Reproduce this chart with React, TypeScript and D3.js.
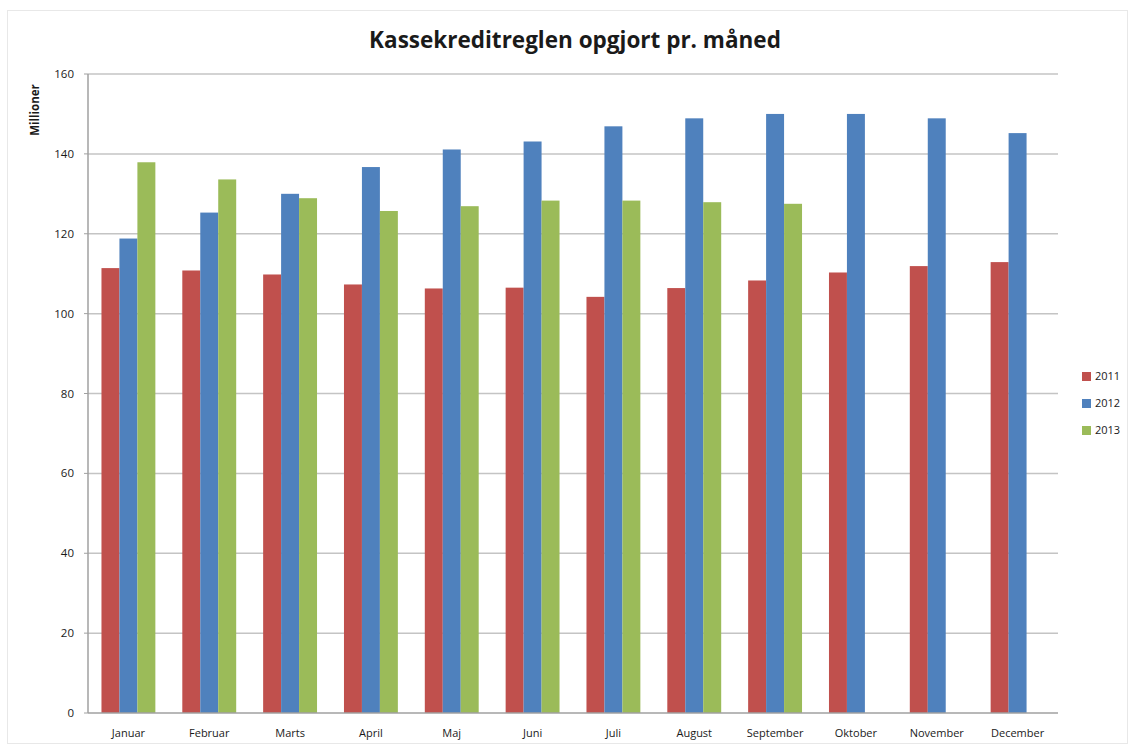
import { scaleBand, scaleLinear } from "d3";

const WIDTH = 1133;
const HEIGHT = 747;
const MARGIN = { top: 74, right: 75, bottom: 34, left: 88 };

const months = [
  "Januar", "Februar", "Marts", "April", "Maj", "Juni",
  "Juli", "August", "September", "Oktober", "November", "December",
];
const years = ["2011", "2012", "2013"];
const values2011 = [111.4, 110.8, 109.8, 107.3, 106.3, 106.5, 104.2, 106.4, 108.3, 110.3, 111.9, 112.9];
const values2012 = [118.8, 125.3, 130.0, 136.7, 141.1, 143.1, 146.9, 148.9, 150.0, 150.0, 148.9, 145.2];
const values2013 = [137.9, 133.6, 128.9, 125.7, 126.9, 128.3, 128.3, 127.9, 127.5, null, null, null];
const yTicks = [0, 20, 40, 60, 80, 100, 120, 140, 160];
const colors = ["#C0504D", "#4F81BD", "#9BBB59"];

const FONT = "'Open Sans', 'Liberation Sans', sans-serif";

export default function App() {
  const series = [values2011, values2012, values2013];
  const x = scaleBand<string>()
    .domain(months)
    .range([MARGIN.left, WIDTH - MARGIN.right]);
  const inner = scaleBand<string>()
    .domain(years)
    .range([0, x.bandwidth()])
    .paddingInner(0)
    .paddingOuter(0.75);
  const y = scaleLinear()
    .domain([0, 160])
    .range([HEIGHT - MARGIN.bottom, MARGIN.top]);

  return (
    <svg width={WIDTH} height={HEIGHT} style={{ position: "absolute", left: 0, top: 0 }}>
      <rect x={0} y={0} width={WIDTH} height={HEIGHT} fill="#fff" />
      <rect x={7.5} y={10.5} width={1120} height={733} fill="none" stroke="#d0d0d0" strokeDasharray="1 1" />
      <text
        x={575}
        y={48}
        textAnchor="middle"
        fontFamily={FONT}
        fontWeight="bold"
        fontSize={22.5}
        fill="#1a1a1a"
      >
        Kassekreditreglen opgjort pr. måned
      </text>
      <text
        transform="translate(39,110) rotate(-90)"
        textAnchor="middle"
        fontFamily={FONT}
        fontWeight="bold"
        fontSize={11.5}
        fill="#1a1a1a"
      >
        Millioner
      </text>
      {yTicks.map((t) => (
        <g key={t}>
          {t > 0 && (
            <line
              x1={MARGIN.left}
              x2={WIDTH - MARGIN.right}
              y1={y(t)}
              y2={y(t)}
              stroke="#c4c4c4"
              strokeWidth={1.5}
            />
          )}
          <line x1={MARGIN.left - 4} x2={MARGIN.left} y1={y(t)} y2={y(t)} stroke="#a0a0a0" />
          <text
            x={74}
            y={y(t) + 4}
            textAnchor="end"
            fontFamily={FONT}
            fontSize={11.5}
            fill="#1a1a1a"
          >
            {t}
          </text>
        </g>
      ))}
      {months.map((m, i) => (
        <g key={m}>
          {series.map((vals, s) => {
            const v = vals[i];
            if (v == null) return null;
            return (
              <rect
                key={s}
                x={(x(m) ?? 0) + (inner(years[s]) ?? 0)}
                y={y(v)}
                width={inner.bandwidth()}
                height={y(0) - y(v)}
                fill={colors[s]}
              />
            );
          })}
          <text
            x={(x(m) ?? 0) + x.bandwidth() / 2}
            y={737}
            textAnchor="middle"
            fontFamily={FONT}
            fontSize={11}
            fill="#1a1a1a"
          >
            {m}
          </text>
        </g>
      ))}
      <line x1={MARGIN.left} x2={MARGIN.left} y1={MARGIN.top} y2={y(0)} stroke="#a0a0a0" strokeWidth={1.5} />
      <line x1={MARGIN.left} x2={WIDTH - MARGIN.right} y1={y(0)} y2={y(0)} stroke="#a0a0a0" strokeWidth={1.5} />
      {years.map((yr, i) => (
        <g key={yr} transform={`translate(1082,${376 + i * 27})`}>
          <rect x={0} y={-4} width={9} height={9} fill={colors[i]} />
          <text x={13} y={4} fontFamily={FONT} fontSize={11} fill="#1a1a1a">
            {yr}
          </text>
        </g>
      ))}
    </svg>
  );
}
